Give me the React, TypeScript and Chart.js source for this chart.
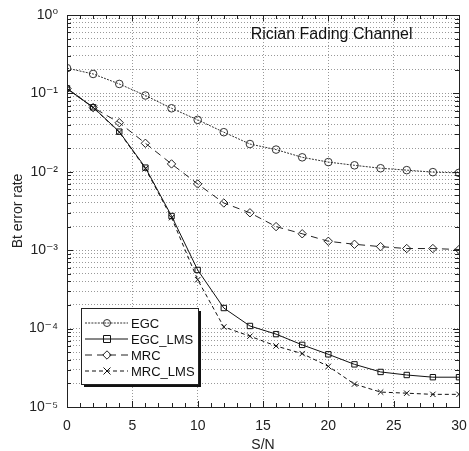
import React, { useEffect, useRef } from "react";
import { Chart, registerables } from "chart.js";

Chart.register(...registerables);

const snr = [0, 2, 4, 6, 8, 10, 12, 14, 16, 18, 20, 22, 24, 26, 28, 30];
const egc = [0.21, 0.177, 0.132, 0.094, 0.0646, 0.046, 0.032, 0.0226, 0.0192, 0.0153, 0.0133, 0.0121, 0.0111, 0.0105, 0.0099, 0.0097];
const egcLms = [0.116, 0.0665, 0.0325, 0.0113, 0.00273, 0.00056, 0.000183, 0.000108, 0.000085, 0.000062, 0.000047, 0.000035, 0.000028, 0.0000256, 0.000024, 0.000024];
const mrc = [0.115, 0.066, 0.0423, 0.0231, 0.0126, 0.0070, 0.0040, 0.0030, 0.0020, 0.00162, 0.0013, 0.00119, 0.00111, 0.00105, 0.00105, 0.00102];
const mrcLms = [0.115, 0.066, 0.032, 0.011, 0.0026, 0.00042, 0.000105, 0.00008, 0.00006, 0.000048, 0.000033, 0.0000196, 0.0000155, 0.000015, 0.0000145, 0.0000145];

const seriesNames = ["EGC", "EGC_LMS", "MRC", "MRC_LMS"];
const seriesValues = [egc, egcLms, mrc, mrcLms];
const xTickStep = 5;
const yDecadeExponents = [-5, -4, -3, -2, -1, 0];
const chartTitle = "Rician Fading Channel";
const xTitle = "S/N";
const yTitle = "Bt error rate";

const styles = [
  { point: "circle", dash: [2, 1.2], color: "#333" },
  { point: "rect", dash: [], color: "#111" },
  { point: "rectRot", dash: [7, 5], color: "#222" },
  { point: "crossRot", dash: [4, 3], color: "#111" },
];

const FONT = "'Liberation Sans', Arial, 'DejaVu Sans', sans-serif";
const SUP: Record<string, string> = {
  "-": "\u207B", "0": "\u2070", "1": "\u00B9", "2": "\u00B2", "3": "\u00B3",
  "4": "\u2074", "5": "\u2075", "6": "\u2076", "7": "\u2077", "8": "\u2078", "9": "\u2079",
};
const sup = (n: number) => String(n).split("").map((c) => SUP[c]).join("");

const yTickValues: number[] = [];
yDecadeExponents.forEach((e, i) => {
  if (i === yDecadeExponents.length - 1) {
    yTickValues.push(Math.pow(10, e));
  } else {
    for (let m = 1; m <= 9; m++) yTickValues.push(m * Math.pow(10, e));
  }
});
const isPow10 = (v: number) => Math.abs(Math.log10(v) - Math.round(Math.log10(v))) < 1e-9;

function drawMarker(ctx: CanvasRenderingContext2D, kind: string, x: number, y: number, r: number) {
  ctx.beginPath();
  if (kind === "circle") {
    ctx.arc(x, y, r, 0, Math.PI * 2);
  } else if (kind === "rect") {
    ctx.rect(x - r, y - r, 2 * r, 2 * r);
  } else if (kind === "rectRot") {
    ctx.moveTo(x, y - r * 1.2);
    ctx.lineTo(x + r * 1.2, y);
    ctx.lineTo(x, y + r * 1.2);
    ctx.lineTo(x - r * 1.2, y);
    ctx.closePath();
  } else {
    ctx.moveTo(x - r, y - r);
    ctx.lineTo(x + r, y + r);
    ctx.moveTo(x + r, y - r);
    ctx.lineTo(x - r, y + r);
  }
  ctx.stroke();
}

const framePlugin = {
  id: "frameAndLegend",
  afterDraw(chart: any) {
    const { ctx, chartArea } = chart;
    const { left, right, top, bottom } = chartArea;
    const xs = chart.scales.x;
    const ys = chart.scales.y;
    ctx.save();
    ctx.strokeStyle = "#222";
    ctx.lineWidth = 1;
    ctx.setLineDash([]);
    ctx.strokeRect(Math.round(left) + 0.5, Math.round(top) + 0.5, Math.round(right - left), Math.round(bottom - top));
    for (let v = xs.min; v <= xs.max; v += 1) {
      const px = Math.round(xs.getPixelForValue(v)) + 0.5;
      const len = v % xTickStep === 0 ? 6 : 4;
      ctx.beginPath();
      ctx.moveTo(px, bottom);
      ctx.lineTo(px, bottom - len);
      ctx.moveTo(px, top);
      ctx.lineTo(px, top + len);
      ctx.stroke();
    }
    yTickValues.forEach((v) => {
      const py = Math.round(ys.getPixelForValue(v)) + 0.5;
      const len = isPow10(v) ? 6 : 4;
      ctx.beginPath();
      ctx.moveTo(left, py);
      ctx.lineTo(left + len, py);
      ctx.moveTo(right, py);
      ctx.lineTo(right - len, py);
      ctx.stroke();
    });
    ctx.fillStyle = "#111";
    ctx.font = `16px ${FONT}`;
    ctx.textAlign = "center";
    ctx.textBaseline = "middle";
    ctx.fillText(chartTitle, left + (right - left) * 0.675, top + 20);

    const bx = left + 14;
    const by = bottom - 99;
    const bw = 117;
    const bh = 76;
    ctx.fillStyle = "#111";
    ctx.fillRect(bx + 3, by + 3, bw, bh);
    ctx.fillStyle = "#fff";
    ctx.fillRect(bx, by, bw, bh);
    ctx.strokeStyle = "#222";
    ctx.strokeRect(bx + 0.5, by + 0.5, bw, bh);
    ctx.font = `13px ${FONT}`;
    ctx.textAlign = "left";
    seriesNames.forEach((name, i) => {
      const st = styles[i];
      const ly = by + 15 + i * 16;
      ctx.strokeStyle = st.color;
      ctx.setLineDash(st.dash);
      ctx.beginPath();
      ctx.moveTo(bx + 4, ly);
      ctx.lineTo(bx + 47, ly);
      ctx.stroke();
      ctx.setLineDash([]);
      drawMarker(ctx, st.point, bx + 26, ly, 3.5);
      ctx.fillStyle = "#111";
      ctx.fillText(name, bx + 50, ly + 1);
    });
    ctx.restore();
  },
};

export default function App() {
  const ref = useRef<HTMLCanvasElement | null>(null);
  useEffect(() => {
    if (!ref.current) return;
    const datasets = seriesNames.map((name, i) => ({
      label: name,
      data: snr.map((x, j) => ({ x, y: seriesValues[i][j] })),
      borderColor: styles[i].color,
      backgroundColor: "rgba(0,0,0,0)",
      borderWidth: 1,
      borderDash: styles[i].dash,
      pointStyle: styles[i].point,
      pointRadius: styles[i].point === "rectRot" ? 4.2 : 3.8,
      pointBorderWidth: 1,
      pointBorderColor: styles[i].color,
      pointBackgroundColor: "rgba(0,0,0,0)",
      tension: 0,
      fill: false,
    }));
    const chart = new Chart(ref.current, {
      type: "line",
      data: { datasets },
      options: {
        animation: false,
        responsive: false,
        layout: { padding: { top: 15, right: 10, left: 0, bottom: 0 } },
        plugins: { legend: { display: false }, tooltip: { enabled: false } },
        scales: {
          x: {
            type: "linear",
            min: 0,
            max: 30,
            afterFit: (s: any) => { s.height = 44; s.paddingRight = 0; s.paddingLeft = 0; },
            ticks: { stepSize: xTickStep, font: { family: FONT, size: 14 }, color: "#222", padding: 11 },
            grid: { color: "rgba(0,0,0,0.5)", lineWidth: 0.8, drawTicks: false },
            border: { display: false, dash: [1, 2] },
            title: { display: true, text: xTitle, font: { family: FONT, size: 14, lineHeight: 0.8 }, color: "#222", padding: { top: 0, bottom: 0 } },
          },
          y: {
            type: "logarithmic",
            min: 1e-5,
            max: 1,
            afterFit: (s: any) => { s.width = 67; s.paddingTop = 0; s.paddingBottom = 0; },
            afterBuildTicks: (s: any) => { s.ticks = yTickValues.map((v) => ({ value: v })); },
            ticks: {
              autoSkip: false,
              font: { family: FONT, size: 14 },
              color: "#222",
              padding: 9,
              callback: (v: any) => (isPow10(Number(v)) ? "10" + sup(Math.round(Math.log10(Number(v)))) : ""),
            },
            grid: { color: "rgba(0,0,0,0.5)", lineWidth: 0.8, drawTicks: false },
            border: { display: false, dash: [1, 2] },
            title: { display: true, text: yTitle, font: { family: FONT, size: 14, lineHeight: 1.2 }, color: "#222", padding: { top: 10, bottom: 0 } },
          },
        },
      },
      plugins: [framePlugin],
    } as any);
    return () => chart.destroy();
  }, []);
  return (
    <div style={{ position: "absolute", left: 0, top: 0, width: 469, height: 451, background: "#fff" }}>
      <canvas ref={ref} width={469} height={451} style={{ display: "block" }} />
    </div>
  );
}
